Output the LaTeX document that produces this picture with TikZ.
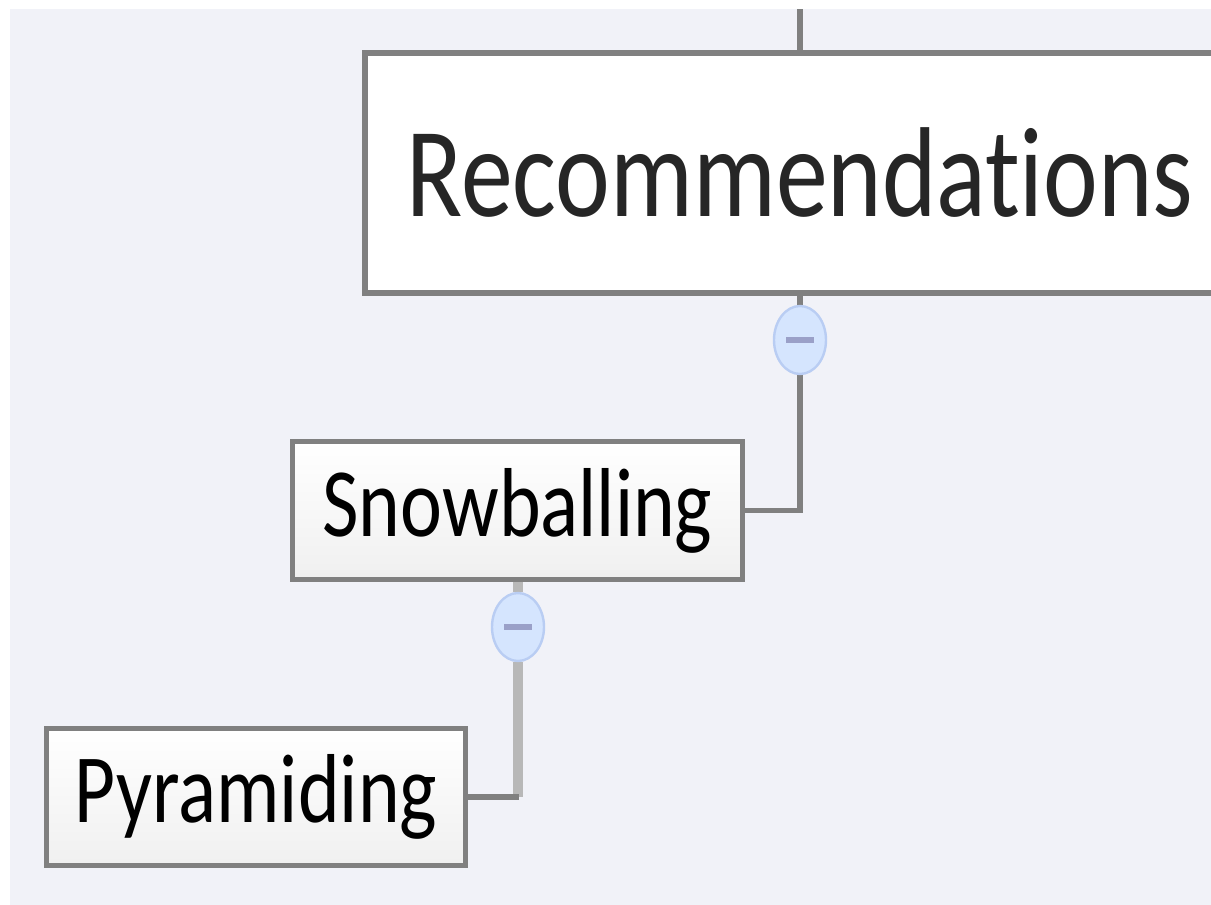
\documentclass[tikz,border=0pt]{standalone}
\usepackage{fontspec}
\usepackage{xcolor}
\usepackage{tikz}
\usetikzlibrary{shapes.geometric,calc}
\newfontfamily\mapfont[FakeStretch=0.81, Ligatures=CommonOff]{Carlito}
\definecolor{mapbg}{HTML}{F1F2F8}
\definecolor{edge}{HTML}{808080}
\definecolor{softedge}{HTML}{B8B8B8}
\definecolor{togfill}{HTML}{D5E5FE}
\definecolor{togline}{HTML}{B9CDF3}
\definecolor{minus}{HTML}{9AA0C8}
\pgfdeclarelayer{bg}
\pgfdeclarelayer{links}
\pgfsetlayers{bg,links,main}

\begin{document}
\begin{tikzpicture}[
  x=0.5pt, y=-0.5pt,
  topic/.style={draw=edge, line width=3pt, fill=white, text=black!85,
    font=\mapfont\fontsize{64pt}{70pt}\selectfont},
  subtopic/.style={draw=edge, line width=2.6pt, top color=white, bottom color=black!6,
    text=black, font=\mapfont\fontsize{49pt}{55pt}\selectfont},
  toggle/.style={ellipse, draw=togline, line width=1.2pt, fill=togfill,
    minimum width=26pt, minimum height=34pt, inner sep=0pt,
    path picture={\draw[minus, line width=3pt]
      ($(path picture bounding box.center)+(-14,0)$) -- ++(28,0);}},
  link/.style={edge, line width=2.8pt},
  softlink/.style={softedge, line width=5pt}
]
\useasboundingbox (0,0) rectangle (1211,905);
\begin{pgfonlayer}{bg}
  \fill[white] (0,0) rectangle (1211,905);
  \fill[mapbg] (10,9) rectangle (1211,905);
\end{pgfonlayer}
\clip (0,0) rectangle (1211,905);

% Topics
\node[topic, minimum width=435pt, minimum height=120pt] (rec) at (800,173) {Recommendations};
\node[subtopic, minimum width=225pt, minimum height=69pt] (snow) at (517.5,510.5) {Snowballing};
\node[subtopic, minimum width=209.5pt, minimum height=68.5pt] (pyr) at (256,797) {Pyramiding};

% Collapse buttons
\node[toggle] (tog1) at (800,340) {};
\node[toggle] (tog2) at (518,627) {};
\coordinate (up) at (800,9);

% Branches
\begin{pgfonlayer}{links}
  \draw[link] (up) -- (rec.north);
  \draw[link] (rec.south) -- (tog1);
  \draw[link] (tog1) |- (snow.east);
  \draw[softlink] (snow.south -| tog2) -- (tog2) -- (tog2 |- pyr.east);
  \draw[link] ($(tog2 |- pyr.east)+(1,0)$) -- (pyr.east);
\end{pgfonlayer}
\end{tikzpicture}
\end{document}
